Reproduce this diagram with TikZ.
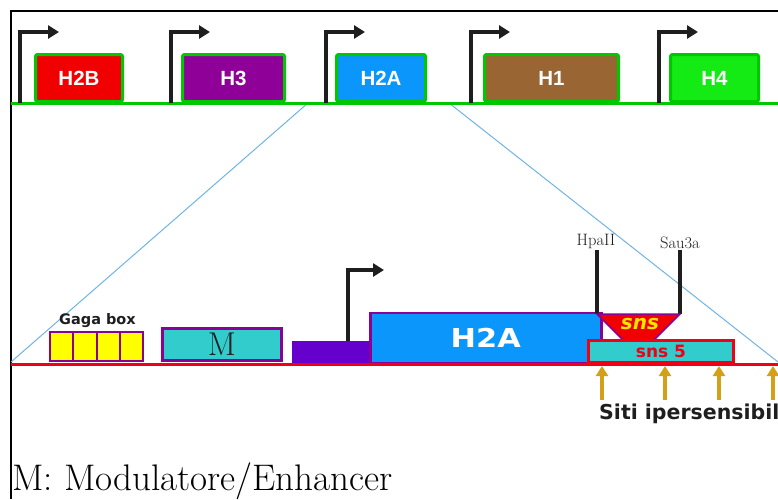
\documentclass[tikz,border=0pt]{standalone}
\usepackage{fontspec}
\newfontfamily\genefont{Liberation Sans}
\newfontfamily\sitefont{DejaVu Sans}
\usepackage{tikz}
\usetikzlibrary{arrows.meta,positioning}

\definecolor{genegreen}{RGB}{0,200,0}
\definecolor{h2bred}{RGB}{240,0,0}
\definecolor{h3purple}{RGB}{142,0,152}
\definecolor{h2ablue}{RGB}{10,150,250}
\definecolor{h1brown}{RGB}{153,102,51}
\definecolor{h4green}{RGB}{20,235,20}
\definecolor{promblack}{RGB}{30,30,30}
\definecolor{zoomblue}{RGB}{110,180,230}
\definecolor{mpurple}{RGB}{140,0,150}
\definecolor{gagayellow}{RGB}{255,255,0}
\definecolor{mcyan}{RGB}{51,204,204}
\definecolor{violetbox}{RGB}{102,0,204}
\definecolor{lined}{RGB}{240,0,20}
\definecolor{hsgold}{RGB}{212,160,23}
\definecolor{snsyellow}{RGB}{255,230,0}

\begin{document}
\begin{tikzpicture}[x=1pt,y=-1pt,
  genebox/.style={draw=genegreen,line width=3pt,rounded corners=2pt,anchor=south west,
    inner sep=0pt,text=white,font=\genefont\bfseries\fontsize{20.5}{24}\selectfont},
  promoter/.style={draw=promblack,line width=4pt,-{Triangle[length=11pt,width=13pt]}},
  cutsite/.style={draw=promblack,line width=4pt},
  enzyme/.style={anchor=south,inner sep=0pt,text=promblack,font=\fontsize{16.5}{18}\selectfont},
  gagabox/.style={draw=mpurple,fill=gagayellow,line width=2pt,anchor=south west,inner sep=0pt},
  hsarrow/.style={draw=hsgold,line width=4pt,-{Triangle[length=10pt,width=12pt]}},
  zoomline/.style={draw=zoomblue,line width=1pt}]

  \useasboundingbox (0,0) rectangle (778,499);
  \draw[line width=1.2pt] (11,499) -- (11,11) -- (778,11);

  % zoom lines
  \coordinate (zl) at (308,103);
  \coordinate (zr) at (449,103);
  \coordinate (zbl) at (11,362);
  \coordinate (zbr) at (778,362);
  \draw[zoomline] (zl) -- (zbl);
  \draw[zoomline] (zr) -- (zbr);

  % histone cluster
  \foreach \nm/\x/\w/\col/\lab in {h2b/34/87/h2bred/H2B, h3/181/102/h3purple/H3,
                                 h2a/335/89/h2ablue/H2A, h1/483/134/h1brown/H1, h4/669/88/h4green/H4}
    \node[genebox,fill=\col,minimum width=\w pt,minimum height=47pt] (\nm) at (\x,103) {\lab};
  \draw[genegreen,line width=3pt] (11,103) -- (778,103);
  \foreach \x in {20,171,326,471,659}
    \draw[promoter] (\x,103) -- (\x,32) -- ++(39,0);

  % H2A gene, enlarged
  \foreach \i in {0,...,3}
    \node[gagabox,minimum width=23.25pt,minimum height=29pt] (gaga\i) at ({49+23.25*\i},362) {};
  \node[above=3pt of gaga1.north east,inner sep=0pt,text=promblack,
    font=\sitefont\bfseries\fontsize{14.5}{16}\selectfont] (gagalab) {Gaga box};
  \node[draw=mpurple,fill=mcyan,line width=3pt,anchor=south west,inner sep=0pt,
    minimum width=119pt,minimum height=32pt,text=promblack,font=\fontsize{33}{34}\selectfont]
    (mod) at (161,362) {M};
  \node[fill=violetbox,anchor=south west,minimum width=77pt,minimum height=23pt] (tata) at (292,364) {};
  \draw[promoter] (348,341) -- (348,270) -- ++(36,0);
  \node[draw=mpurple,fill=h2ablue,line width=2.5pt,anchor=south west,inner sep=0pt,
    minimum width=231pt,minimum height=50pt,text=white,
    font=\sitefont\bfseries\fontsize{26}{30}\selectfont] (h2abig) at (369,364) {\scalebox{1.17}[1]{H2A}};

  % restriction sites
  \draw[cutsite] (597,314) -- (597,250);
  \draw[cutsite] (680,314) -- (680,250);
  \node[enzyme] (hpa) at (596,249) {HpaII};
  \node[enzyme] (sau) at (680,249) {Sau3a};
  \draw[mpurple,fill=h2bred,line width=1.5pt] (597,314) -- (680,314) -- (652,342) -- (625,342) -- cycle;
  \node[text=snsyellow,font=\sitefont\bfseries\itshape\fontsize{20}{22}\selectfont] (sns) at (640,324) {sns};
  \node[draw=lined,fill=mcyan,line width=3pt,anchor=south west,inner sep=0pt,
    minimum width=145pt,minimum height=22pt,text=lined,
    font=\sitefont\bfseries\fontsize{17}{20}\selectfont] (sns5) at (587,364) {sns 5};
  \draw[lined,line width=3pt] (11,364) -- (778,364);

  % hypersensitive sites
  \foreach \x in {602,665,719,773}
    \draw[hsarrow] (\x,400) -- (\x,366);
  \node[anchor=base west,inner sep=0pt,text=promblack,
    font=\sitefont\bfseries\fontsize{20.5}{24}\selectfont] (siti) at (599,419) {Siti ipersensibil};

  \node[anchor=base west,inner sep=0pt,font=\fontsize{37}{40}\selectfont] (legend) at (12,490)
    {M: Modulatore/Enhancer};
\end{tikzpicture}
\end{document}
